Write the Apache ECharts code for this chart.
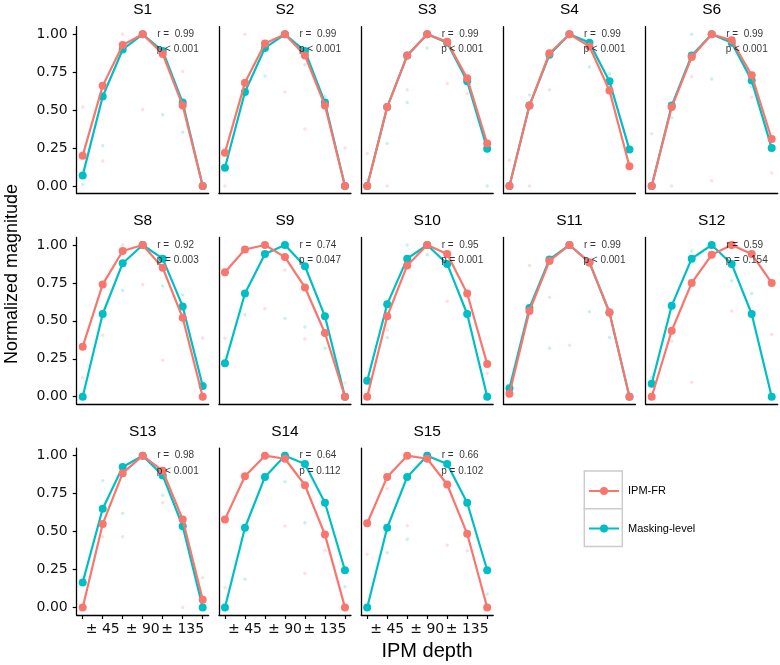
<!DOCTYPE html>
<html><head><meta charset="utf-8">
<script src="https://cdn.jsdelivr.net/npm/echarts@6/dist/echarts.min.js"></script>
<style>html,body{margin:0;padding:0;background:#fff}#c{width:780px;height:665px}</style>
</head><body><div id="c"></div>
<script>
const panels = ['S1','S2','S3','S4','S6','S8','S9','S10','S11','S12','S13','S14','S15'];
const xTickLabels = ['', '± 45', '', '± 90', '', '± 135', ''];
const yTicks = [0, 0.25, 0.5, 0.75, 1];
const seriesNames = ['IPM-FR', 'Masking-level'];

const ipmFR = [
  [0.20,0.66,0.93,1.00,0.87,0.53,0.00],
  [0.22,0.68,0.94,1.00,0.86,0.53,0.00],
  [0.00,0.52,0.86,1.00,0.95,0.71,0.28],
  [0.00,0.53,0.875,1.00,0.92,0.63,0.13],
  [0.00,0.52,0.85,1.00,0.96,0.73,0.31],
  [0.33,0.74,0.96,1.00,0.85,0.52,0.00],
  [0.82,0.97,1.00,0.92,0.72,0.42,0.00],
  [0.00,0.53,0.865,1.00,0.94,0.68,0.215],
  [0.02,0.565,0.895,1.00,0.885,0.555,0.00],
  [0.00,0.435,0.75,0.935,1.00,0.94,0.75],
  [0.00,0.55,0.885,1.00,0.90,0.58,0.05],
  [0.58,0.865,1.00,0.98,0.805,0.48,0.00],
  [0.555,0.86,1.00,0.98,0.81,0.485,0.00]
];
const masking = [
  [0.07,0.59,0.90,1.00,0.89,0.55,0.00],
  [0.12,0.62,0.91,1.00,0.89,0.55,0.00],
  [0.00,0.52,0.86,1.00,0.945,0.69,0.245],
  [0.00,0.53,0.865,1.00,0.945,0.69,0.24],
  [0.00,0.53,0.86,1.00,0.945,0.695,0.25],
  [0.00,0.545,0.88,1.00,0.91,0.595,0.07],
  [0.22,0.68,0.94,1.00,0.86,0.53,0.00],
  [0.105,0.61,0.91,1.00,0.875,0.545,0.00],
  [0.055,0.585,0.905,1.00,0.885,0.555,0.00],
  [0.085,0.60,0.91,1.00,0.875,0.545,0.00],
  [0.165,0.65,0.925,1.00,0.87,0.535,0.00],
  [0.00,0.525,0.86,1.00,0.945,0.69,0.245],
  [0.00,0.525,0.86,1.00,0.945,0.69,0.245]
];
// faint individual points: [depth index, value]
const ipmFRRaw = [
  [[0,0.52],[1,0.165],[2,1.0],[3,0.505],[5,0.755]],
  [[0,0.0],[1,1.0],[3,0.62],[4,0.375],[6,0.25]],
  [[0,0.215],[1,0.0],[2,0.635],[4,0.675],[5,0.61]],
  [[0,0.17],[1,0.0],[2,0.635],[6,0.115]],
  [[0,0.345],[1,0.0],[2,0.72],[3,0.035],[5,0.585],[6,0.085]],
  [[0,0.125],[1,0.405],[2,1.0],[3,0.74],[4,0.24],[6,0.385]],
  [[0,0.385],[2,0.58],[3,0.835],[4,0.38],[6,0.09]],
  [[1,0.44],[4,0.63],[6,0.155]],
  [[1,0.865],[2,0.655],[3,0.34]],
  [[1,0.365],[2,0.095],[4,0.565],[6,0.41]],
  [[1,0.465],[2,0.465],[4,0.69],[5,0.0],[6,0.195]],
  [[0,0.132],[3,0.536],[4,0.224],[5,0.374]],
  [[0,0.35],[1,0.782],[2,0.538],[4,0.41],[5,0.374]]
];
const maskingRaw = [
  [[0,0.01],[1,0.265],[4,0.47],[5,0.355]],
  [[2,0.725],[4,0.80],[5,0.59]],
  [[0,0.04],[1,0.28],[2,0.55],[3,0.91],[6,0.0]],
  [[1,0.60],[4,0.785],[5,0.74]],
  [[1,0.45],[2,1.0],[3,0.705],[5,0.655]],
  [[2,0.70],[4,0.73],[5,0.67]],
  [[1,0.54],[3,0.515],[4,0.46],[5,0.32]],
  [[1,0.39],[2,1.0],[3,0.935]],
  [[2,0.32],[4,0.56],[5,0.39]],
  [[0,0.13],[2,0.96],[4,0.765],[5,0.68]],
  [[1,0.835],[2,0.62],[4,0.74]],
  [[1,0.185],[3,0.829],[4,0.558],[6,0.136]],
  [[1,0.36],[2,0.45],[6,0.088]]
];
const rValues = ['0.99','0.99','0.99','0.99','0.99','0.92','0.74','0.95','0.99','0.59','0.98','0.64','0.66'];
const pValues = ['< 0.001','< 0.001','< 0.001','< 0.001','< 0.001','= 0.003','= 0.047','= 0.001','< 0.001','= 0.154','< 0.001','= 0.112','= 0.102'];

// layout
const NCOL = 5, COL0 = 76.7, COLSTEP = 142.25, ROW0 = 26.7, ROWSTEP = 210.7, PW = 132, PH = 166.9;
const RED = '#F8766D', TEAL = '#00BFC4';
const nRows = Math.ceil(panels.length / NCOL);
const grids = [], xAxes = [], yAxes = [], series = [], graphics = [];
const tickFont = 'DejaVu Sans';
const mainFont = 'Liberation Sans';

panels.forEach((name, i) => {
  const row = Math.floor(i / NCOL), col = i % NCOL;
  const left = COL0 + COLSTEP * col, top = ROW0 + ROWSTEP * row;
  const isBottom = row === nRows - 1;
  const isLeft = col === 0;
  grids.push({left: left, top: top, width: PW, height: PH, containLabel: false});
  xAxes.push({
    type: 'value', gridIndex: i, min: -0.3, max: 6.3,
    axisLine: {show: true, onZero: false, lineStyle: {color: '#000', width: 1.3}},
    axisTick: {show: isBottom, length: 4, lineStyle: {color: '#000', width: 1.2}, customValues: [0,1,2,3,4,5,6]},
    axisLabel: {show: isBottom, customValues: [1,3,5], formatter: v => xTickLabels[Math.round(v)],
      fontFamily: tickFont, fontSize: 14, color: '#111', margin: 7},
    splitLine: {show: false}
  });
  yAxes.push({
    type: 'value', gridIndex: i, min: -0.05, max: 1.05,
    axisLine: {show: true, onZero: false, lineStyle: {color: '#000', width: 1.3}},
    axisTick: {show: isLeft, length: 4, lineStyle: {color: '#000', width: 1.2}, customValues: yTicks},
    axisLabel: {show: isLeft, customValues: yTicks, formatter: v => v.toFixed(2),
      fontFamily: tickFont, fontSize: 14, color: '#111', margin: 9},
    splitLine: {show: false}
  });
  series.push({
    type: 'scatter', xAxisIndex: i, yAxisIndex: i, data: ipmFRRaw[i], symbolSize: 3.5, silent: true,
    itemStyle: {color: 'rgba(248,118,109,0.28)'}, z: 1
  });
  series.push({
    type: 'scatter', xAxisIndex: i, yAxisIndex: i, data: maskingRaw[i], symbolSize: 3.5, silent: true,
    itemStyle: {color: 'rgba(0,191,196,0.28)'}, z: 1
  });
  series.push({
    name: seriesNames[1], type: 'line', xAxisIndex: i, yAxisIndex: i,
    data: masking[i].map((v, k) => [k, v]), symbol: 'circle', symbolSize: 8, showSymbol: true,
    lineStyle: {color: TEAL, width: 2.2}, itemStyle: {color: TEAL}, z: 2, clip: false
  });
  series.push({
    name: seriesNames[0], type: 'line', xAxisIndex: i, yAxisIndex: i,
    data: ipmFR[i].map((v, k) => [k, v]), symbol: 'circle', symbolSize: 8, showSymbol: true,
    lineStyle: {color: RED, width: 2.2}, itemStyle: {color: RED}, z: 3, clip: false
  });
  series.push({
    type: 'scatter', xAxisIndex: i, yAxisIndex: i, symbolSize: 0, silent: true, z: 4,
    itemStyle: {color: 'transparent'},
    data: [
      {value: [4.65, 1.0], label: {formatter: 'r =  ' + rValues[i]}},
      {value: [4.75, 0.9], label: {formatter: 'p ' + pValues[i]}}
    ],
    label: {show: true, position: 'inside', color: '#000', fontSize: 10, fontFamily: mainFont}
  });
  graphics.push({
    type: 'text', silent: true,
    style: {text: name, x: left + PW / 2, y: top - 16.7, textAlign: 'center', textVerticalAlign: 'middle', verticalAlign: 'middle',
      font: '15.5px "Liberation Sans"', fill: '#000'}
  });
});

// axis titles
graphics.push({
  type: 'text', silent: true,
  style: {text: 'IPM depth', x: 427, y: 651, textAlign: 'center', textVerticalAlign: 'middle', verticalAlign: 'middle',
    font: '20px "Liberation Sans"', fill: '#000'}
});
graphics.push({
  type: 'text', silent: true, x: 12.5, y: 274, rotation: Math.PI / 2,
  style: {text: 'Normalized magnitude', x: 0, y: 0, textAlign: 'center', textVerticalAlign: 'middle', verticalAlign: 'middle',
    font: '18px "Liberation Sans"', fill: '#000'}
});
// legend key boxes
graphics.push({type: 'rect', silent: true, z: 0, shape: {x: 584.3, y: 471, width: 38, height: 37.7},
  style: {fill: '#fff', stroke: '#cccccc', lineWidth: 1.5}});
graphics.push({type: 'rect', silent: true, z: 0, shape: {x: 584.3, y: 508.7, width: 38, height: 37.7},
  style: {fill: '#fff', stroke: '#cccccc', lineWidth: 1.5}});

const legendBase = {
  orient: 'vertical', left: 588, itemWidth: 30, itemHeight: 10, padding: 0,
  textStyle: {fontSize: 11, fontFamily: mainFont, color: '#000', padding: [0, 0, 0, 4]},
  selectedMode: false
};

const chart = echarts.init(document.getElementById('c'), null, {renderer: 'canvas'});
chart.setOption({
  animation: false,
  backgroundColor: '#fff',
  grid: grids, xAxis: xAxes, yAxis: yAxes, series: series,
  legend: [
    Object.assign({}, legendBase, {data: [seriesNames[0]], top: 485.5}),
    Object.assign({}, legendBase, {data: [seriesNames[1]], top: 523})
  ],
  graphic: graphics
});
</script>
</body></html>
